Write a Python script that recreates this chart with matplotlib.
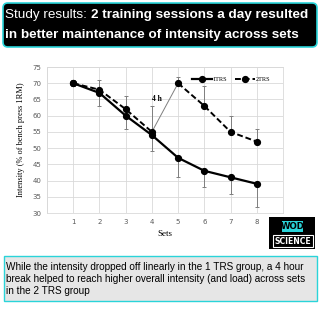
import matplotlib
matplotlib.use("Agg")
import matplotlib.pyplot as plt
from matplotlib.patches import FancyBboxPatch, Rectangle

sets = [1, 2, 3, 4, 5, 6, 7, 8]
trs1 = [70, 67, 60, 54, 47, 43, 41, 39]
trs2 = [70, 68, 62, 55, 70, 63, 55, 52]
trs1_err_low = [1, 4, 4, 5, 6, 5, 5, 7]
trs2_err_up = [1, 3, 4, 8, 2, 6, 5, 4]
yticks = [30, 35, 40, 45, 50, 55, 60, 65, 70, 75]

title_plain = "Study results: "
title_bold_1 = "2 training sessions a day resulted"
title_bold_2 = "in better maintenance of intensity across sets"
caption = ("While the intensity dropped off linearly in the 1 TRS group, a 4 hour\n"
           "break helped to reach higher overall intensity (and load) across sets\n"
           "in the 2 TRS group")

W = H = 323
fig = plt.figure(figsize=(W / 100, H / 100), dpi=100)
fig.patch.set_facecolor("white")
CYAN = "#2ad4d9"

def px(x, y):
    return x / W, 1 - y / H

# title banner
ban = FancyBboxPatch(px(3, 47), 314 / W, 44 / H, boxstyle="round,pad=0,rounding_size=0.015",
                     transform=fig.transFigure, facecolor="black", edgecolor=CYAN,
                     linewidth=1.2, zorder=1)
fig.patches.append(ban)
TFS = 9.7
t = fig.text(*px(5, 15), title_plain, color="white", fontsize=TFS, family="Liberation Sans",
             va="center", ha="left")
fig.canvas.draw()
bb = t.get_window_extent()
fig.text(bb.x1 / W, 1 - 15 / H, title_bold_1, color="white", fontsize=TFS,
         family="Liberation Sans", fontweight="bold", va="center", ha="left")
fig.text(*px(5, 35), title_bold_2, color="white", fontsize=TFS, family="Liberation Sans",
         fontweight="bold", va="center", ha="left")

# chart
ax = fig.add_axes([47 / W, 1 - 213 / H, (283 - 47) / W, (213 - 67) / H])
ax.set_xlim(0, 9)
ax.set_ylim(30, 75)
ax.set_xticks(range(0, 10))
ax.set_xticklabels([""] + [str(s) for s in sets] + [""])
ax.set_yticks(yticks)
ax.grid(True, color="#d9d9d9", linewidth=0.6)
ax.set_axisbelow(True)
for s in ax.spines.values():
    s.set_color("#d9d9d9")
    s.set_linewidth(0.6)
ax.tick_params(length=0, labelsize=5, colors="#595959", pad=4)

ecol = "#7f7f7f"
ax.errorbar(sets, trs1, yerr=[trs1_err_low, [0] * len(sets)], fmt="none", ecolor=ecol,
            elinewidth=0.7, capsize=1.5, capthick=0.7, zorder=2)
ax.errorbar(sets, trs2, yerr=[[0] * len(sets), trs2_err_up], fmt="none", ecolor=ecol,
            elinewidth=0.7, capsize=1.5, capthick=0.7, zorder=2)

MS = 4.2
l1, = ax.plot(sets, trs1, color="black", linewidth=1.6, marker="o", markersize=MS,
              zorder=4, label="1TRS")
# 2TRS: first session, second session, joined by a thin break line
ax.plot(sets[:4], trs2[:4], color="black", linewidth=1.4, linestyle=(0, (3, 1.5)),
        marker="o", markersize=MS, zorder=3)
ax.plot(sets[4:], trs2[4:], color="black", linewidth=1.4, linestyle=(0, (3, 1.5)),
        marker="o", markersize=MS, zorder=3)
ax.plot(sets[3:5], trs2[3:5], color="#7f7f7f", linewidth=0.7, zorder=2)
l2, = ax.plot([], [], color="black", linewidth=1.4, linestyle=(0, (3, 1.5)),
              marker="o", markersize=MS, label="2TRS")
ax.text(4.2, 65, "4 h", fontsize=5.5, family="Liberation Serif", fontweight="bold",
        ha="center", va="center")

leg = ax.legend(handles=[l1, l2], loc="upper right", ncol=2, frameon=False,
                prop={"family": "Liberation Serif", "size": 4.5}, handlelength=3.2,
                columnspacing=1.2, handletextpad=0.1, bbox_to_anchor=(0.97, 0.97))

ax.set_ylabel("Intensity (% of bench press 1RM)", family="Liberation Serif", fontsize=6,
              labelpad=5)
ax.set_xlabel("Sets", family="Liberation Serif", fontsize=6.5, labelpad=4)

# logo
lg = fig.add_axes([269 / W, 1 - 249 / H, 46 / W, 32 / H])
lg.set_xlim(269, 315)
lg.set_ylim(249, 217)
lg.axis("off")
lg.add_patch(Rectangle((269, 217), 46, 32, facecolor="black", edgecolor="none"))
lg.add_patch(Rectangle((282, 221), 21, 11, facecolor=CYAN, edgecolor="none"))
lg.text(292.5, 226.8, "WOD", color="black", fontsize=6.2, fontweight="bold",
        family="DejaVu Sans Condensed", ha="center", va="center")
lg.add_patch(Rectangle((273, 235), 40, 12, facecolor="black", edgecolor="white",
                       linewidth=0.8))
lg.text(293, 241.2, "SCIENCE", color="white", fontsize=5.6, fontweight="bold",
        family="DejaVu Sans Condensed", ha="center", va="center")

# caption box
cap = Rectangle(px(4, 301), 313 / W, 45 / H, transform=fig.transFigure,
                facecolor="#e6e6e6", edgecolor=CYAN, linewidth=1.0)
fig.patches.append(cap)
fig.text(*px(6, 279), caption, fontsize=7.2, family="Liberation Sans", va="center",
         ha="left", linespacing=1.3)

fig.savefig("out.png", dpi=100)
